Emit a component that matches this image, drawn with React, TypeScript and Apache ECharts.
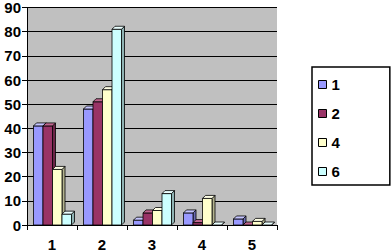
import React, { useEffect, useRef } from "react";
import * as echarts from "echarts";

const categories = ["1", "2", "3", "4", "5"];
const seriesNames = ["1", "2", "4", "6"];
const s1 = [41, 48, 2, 5, 2.5];
const s2 = [41, 51, 5, 1, 0];
const s4 = [23, 56, 6, 11, 1.5];
const s6 = [4.5, 81, 13, 0, 0];
const yTicks = [0, 10, 20, 30, 40, 50, 60, 70, 80, 90];

const colors = ["#9999FF", "#993366", "#FFFFCC", "#CCFFFF"];
const topColors = ["#c4c4ff", "#c0668f", "#ffffe6", "#eaffff"];
const sideColors = ["#6b6bb3", "#6b2447", "#b3b38f", "#8fb3b3"];

export default function App() {
  const ref = useRef<HTMLDivElement>(null);
  useEffect(() => {
    if (!ref.current) return;
    const chart = echarts.init(ref.current, undefined, { renderer: "svg" });
    const all = [s1, s2, s4, s6];
    const barW = 9.5;
    const d = 3;
    const series = all.map((vals, i) => ({
      type: "custom",
      name: seriesNames[i],
      itemStyle: { color: colors[i] },
      data: vals.map((v, c) => [c, v]),
      renderItem: (params: any, api: any) => {
        const c = api.value(0);
        const v = api.value(1);
        const pt = api.coord([c, v]);
        const p0 = api.coord([c, 0]);
        const x0 = pt[0] - 2 * barW + 0.5 + i * barW;
        const x1 = x0 + barW;
        const yT = pt[1];
        const yB = p0[1];
        const stroke = { stroke: "#000", lineWidth: 0.8 };
        return {
          type: "group",
          children: [
            {
              type: "polygon",
              shape: { points: [[x1, yT], [x1 + d, yT - d], [x1 + d, yB - d], [x1, yB]] },
              style: { fill: sideColors[i], ...stroke },
            },
            {
              type: "rect",
              shape: { x: x0, y: yT, width: barW, height: yB - yT },
              style: { fill: colors[i], ...stroke },
            },
            {
              type: "polygon",
              shape: { points: [[x0, yT], [x0 + d, yT - d], [x1 + d, yT - d], [x1, yT]] },
              style: { fill: topColors[i], ...stroke },
            },
          ],
        };
      },
    }));
    chart.setOption({
      animation: false,
      color: colors,
      backgroundColor: "#ffffff",
      textStyle: { fontFamily: "Liberation Sans, Arial, sans-serif" },
      grid: {
        left: 27,
        right: 115,
        top: 5,
        bottom: 27,
        show: true,
        backgroundColor: "#C0C0C0",
        borderWidth: 0,
      },
      legend: {
        orient: "vertical",
        left: 312,
        top: 67,
        data: seriesNames,
        icon: "rect",
        itemWidth: 8,
        itemHeight: 8,
        itemGap: 14,
        padding: [10, 50, 6, 6],
        borderColor: "#000",
        borderWidth: 1.5,
        itemStyle: { borderColor: "#000", borderWidth: 1 },
        textStyle: { fontSize: 15, fontWeight: "bold", color: "#000", padding: [0, 0, 0, 0] },
      },
      xAxis: {
        type: "category",
        data: categories,
        axisLine: { lineStyle: { color: "#000", width: 1 } },
        axisTick: { show: true, length: 5, lineStyle: { color: "#000" } },
        axisLabel: { fontSize: 15, fontWeight: "bold", color: "#000", margin: 12 },
        splitLine: { show: false },
      },
      yAxis: {
        type: "value",
        min: 0,
        max: 90,
        interval: 10,
        axisLine: { show: true, lineStyle: { color: "#000", width: 1 } },
        axisTick: { show: true, length: 5, lineStyle: { color: "#000" } },
        axisLabel: {
          fontSize: 15,
          fontWeight: "bold",
          color: "#000",
          margin: 6,
          formatter: (v: number) => (yTicks.includes(v) ? String(v) : ""),
        },
        splitLine: { show: true, lineStyle: { color: "#000", width: 1 } },
      },
      series,
    });
    return () => chart.dispose();
  }, []);
  return (
    <div
      ref={ref}
      style={{ position: "absolute", left: 0, top: 0, width: 392, height: 252 }}
    />
  );
}
